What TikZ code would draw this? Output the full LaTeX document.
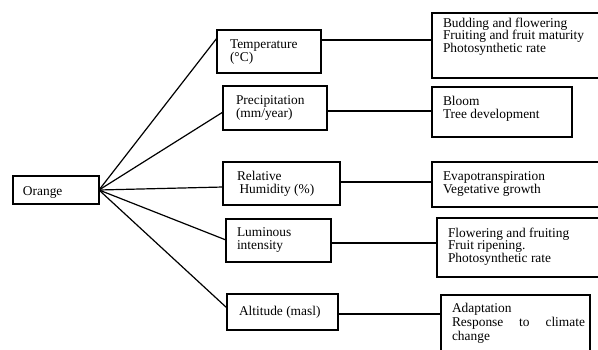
\documentclass[tikz,border=0pt]{standalone}
\usepackage{fontspec}
\setmainfont{Liberation Serif}
\newcommand\mylines[2][13]{\vtop{\baselineskip=#1pt\lineskiplimit=-100pt\lineskip=0pt\halign{##\hfil\cr#2\crcr}}}
\begin{document}
\begin{tikzpicture}[x=1pt,y=-1pt,
  box/.style={draw=black, line width=1.6pt, inner sep=0pt, outer sep=0pt, anchor=north west, fill=none},
  txt/.style={inner sep=0pt, outer sep=0pt, anchor=base west, font=\fontsize{13.4pt}{13pt}\selectfont},
  conn/.style={draw=black, line width=1.2pt}]
\useasboundingbox (0,0) rectangle (598,349);
\clip (0,0) rectangle (598,349);
% boxes
\node[box, minimum width=86pt, minimum height=28pt] (orange) at (13,176) {};
\node[box, minimum width=104pt, minimum height=43pt] (temp) at (217,30) {};
\node[box, minimum width=104pt, minimum height=44pt] (prec) at (223,86) {};
\node[box, minimum width=117pt, minimum height=43pt] (hum) at (223,162) {};
\node[box, minimum width=105pt, minimum height=43pt] (lum) at (226,219) {};
\node[box, minimum width=111pt, minimum height=36pt] (alt) at (227,294) {};
\node[box, minimum width=178pt, minimum height=65pt] (bud) at (432,13) {};
\node[box, minimum width=140pt, minimum height=50pt] (bloom) at (432,87) {};
\node[box, minimum width=178pt, minimum height=45pt] (evap) at (432,162) {};
\node[box, minimum width=173pt, minimum height=59pt] (flow) at (437,218) {};
\node[box, minimum width=149pt, minimum height=70pt] (adapt) at (441,295) {};
% texts
\node[txt] (orangeT) at (23,195) {Orange};
\node[txt] (tempT) at (230,48) {\mylines{Temperature\cr(°C)}};
\node[txt] (precT) at (236,104) {\mylines{Precipitation\cr(mm/year)}};
\node[txt] (humT) at (237,180) {\mylines{Relative\cr\hspace{2.5pt}Humidity (\%)}};
\node[txt] (lumT) at (237,236) {\mylines{Luminous\cr intensity}};
\node[txt] (altT) at (239,315) {Altitude (masl)};
\node[txt] (budT) at (443,27) {\mylines[12.5]{Budding and flowering\cr Fruiting and fruit maturity\cr Photosynthetic rate}};
\node[txt] (bloomT) at (443,105) {\mylines{Bloom\cr Tree development}};
\node[txt] (evapT) at (443,180) {\mylines{Evapotranspiration\cr Vegetative growth}};
\node[txt] (flowT) at (448,237) {\mylines[12.5]{Flowering and fruiting\cr Fruit ripening.\cr Photosynthetic rate}};
\node[txt] (adaptT) at (452,312) {\mylines[14]{Adaptation\cr\makebox[133pt][s]{Response to climate}\cr change}};
% fan connectors
\draw[conn] (orange.east) -- ([yshift=-8pt]temp.north west);
\draw[conn] (orange.east) -- ([yshift=-26pt]prec.north west);
\draw[conn] (orange.east) -- ([yshift=-25pt]hum.north west);
\draw[conn] (orange.east) -- ([yshift=-21pt]lum.north west);
\draw[conn] (orange.east) -- ([yshift=-14pt]alt.north west);
% right connectors
\draw[conn] ([yshift=-10pt]temp.north east) -- ([yshift=-27pt]bud.north west);
\draw[conn] ([yshift=-25pt]prec.north east) -- ([yshift=-24pt]bloom.north west);
\draw[conn] ([yshift=-20pt]hum.north east) -- ([yshift=-20pt]evap.north west);
\draw[conn] ([yshift=-24pt]lum.north east) -- ([yshift=-25pt]flow.north west);
\draw[conn] ([yshift=-20pt]alt.north east) -- ([yshift=-19pt]adapt.north west);
\end{tikzpicture}
\end{document}
